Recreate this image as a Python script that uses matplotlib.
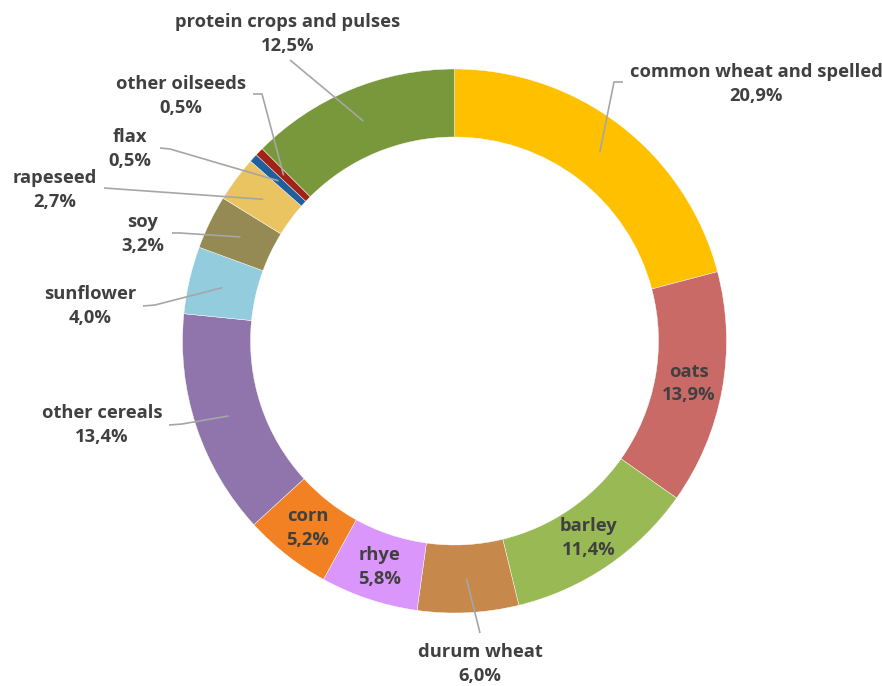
import numpy as np
import matplotlib
matplotlib.use("Agg")
import matplotlib.pyplot as plt

# ---- data ----
categories = ["common wheat and spelled", "oats", "barley", "durum wheat", "rhye",
              "corn", "other cereals", "sunflower", "soy", "rapeseed", "flax",
              "other oilseeds", "protein crops and pulses"]
shares = [20.9, 13.9, 11.4, 6.0, 5.8, 5.2, 13.4, 4.0, 3.2, 2.7, 0.5, 0.5, 12.5]
colors = ["#FFC000", "#C96A67", "#98B954", "#C6884B", "#DA96FA", "#F28123",
          "#8F75AB", "#93CDDD", "#958A53", "#EBC462", "#1F5F9E", "#A12216", "#79983C"]

# ---- layout (pixel coords, y measured from top) ----
W, H = 882, 686
CX, CY = 454.5, 341.0
R_OUT, R_W = 272.0, 68.0
R_MID = R_OUT - R_W / 2

inside = {"oats", "barley", "rhye", "corn"}
# outside label: (text centre x, text centre y, elbow points)
outside = {
    "common wheat and spelled": ((756, 84), [(623, 82), (614, 82)]),
    "durum wheat": ((480, 664), [(480, 633)]),
    "other cereals": ((102, 425), [(169, 425), (182, 424)]),
    "sunflower": ((90, 306), [(143, 306), (155, 305)]),
    "soy": ((143, 234), [(172, 233), (180, 233)]),
    "rapeseed": ((55, 190), [(104, 188)]),
    "flax": ((130, 149), [(160, 148), (170, 149)]),
    "other oilseeds": ((181, 96), [(253, 94), (262, 94)]),
    "protein crops and pulses": ((288, 34), [(290, 60)]),
}

def Y(y):
    return H - y

fig = plt.figure(figsize=(W / 100, H / 100), dpi=100)
ax = fig.add_axes([0, 0, 1, 1])
ax.pie(shares, colors=colors, startangle=90, counterclock=False,
       radius=R_OUT, center=(CX, Y(CY)),
       wedgeprops=dict(width=R_W, edgecolor="white", linewidth=0.3))
ax.set_xlim(0, W)
ax.set_ylim(0, H)
ax.set_aspect("equal")
ax.axis("off")

font = dict(family=["Open Sans", "DejaVu Sans"], weight="bold", fontsize=13.2,
            color="#404040", ha="center", va="center", linespacing=1.4)

total = sum(shares)
cum = 0.0
for name, v in zip(categories, shares):
    mid = (cum + v / 2) / total
    cum += v
    ang = np.deg2rad(90 - mid * 360)
    px = CX + R_MID * np.cos(ang)
    py = CY - R_MID * np.sin(ang)
    label = f"{name}\n{v:.1f}%".replace(".", ",")
    if name in inside:
        ax.text(px, Y(py), label, **font)
    else:
        (tx, ty), elbow = outside[name]
        pts = elbow + [(px, py)]
        ax.plot([p[0] for p in pts], [Y(p[1]) for p in pts],
                color="#A6A6A6", lw=1.2, solid_capstyle="butt")
        ax.text(tx, Y(ty), label, **font)

fig.savefig("out.png", dpi=100)
